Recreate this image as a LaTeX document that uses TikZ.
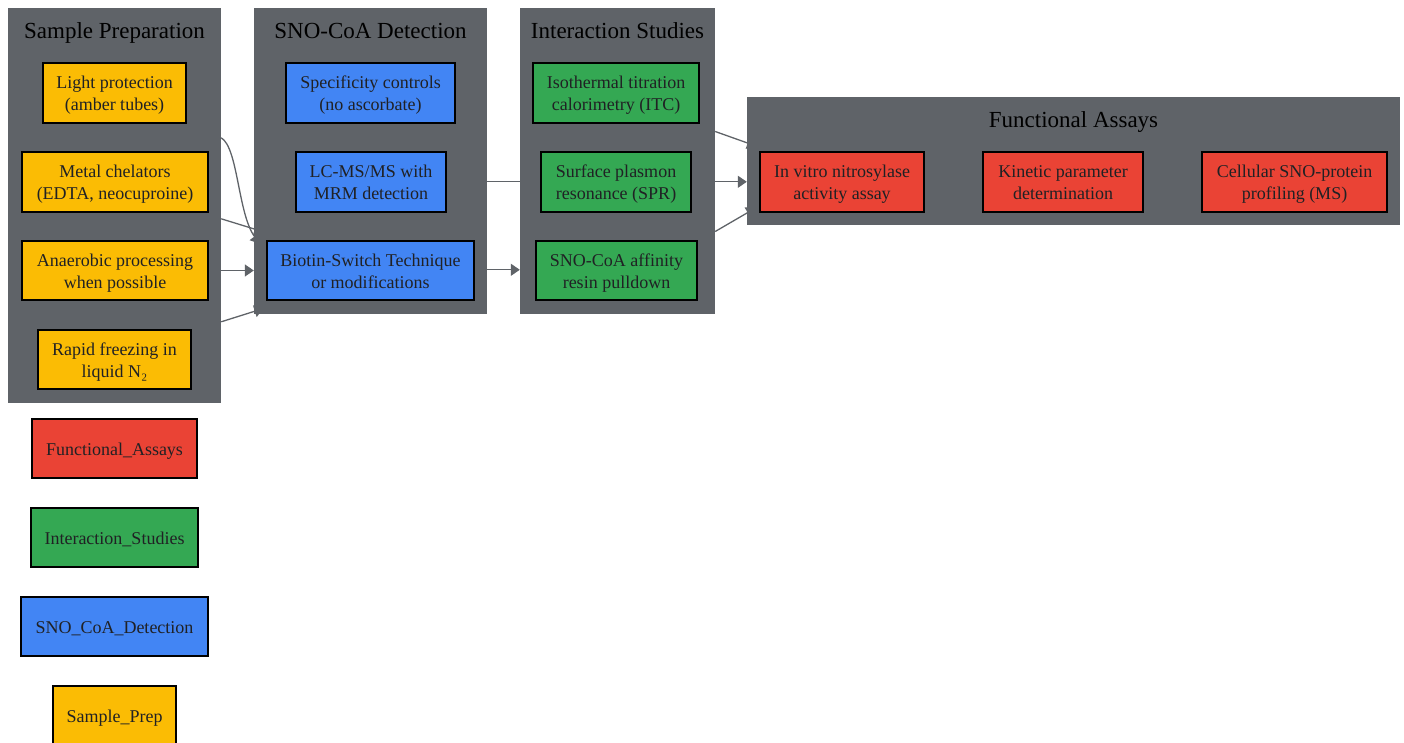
\documentclass[tikz,border=0pt]{standalone}
\usepackage{fontspec}
\setmainfont{Liberation Serif}
\usetikzlibrary{arrows.meta,calc}
\definecolor{clgray}{HTML}{5F6368}
\definecolor{cAmber}{HTML}{FBBC04}
\definecolor{cBlue}{HTML}{4285F4}
\definecolor{cGreen}{HTML}{34A853}
\definecolor{cRed}{HTML}{EA4335}
\definecolor{txt}{HTML}{202124}
\newcommand{\tx}[1]{\raisebox{-2.5pt}[\height][\depth]{\begin{tabular}{@{}c@{}}#1\end{tabular}}}
\tikzset{
  cluster/.style={fill=clgray,draw=none,inner sep=0pt},
  ctitle/.style={font=\fontsize{23}{27}\selectfont,text=black,inner sep=0pt,anchor=base},
  box/.style={draw=black,line width=1.3pt,inner sep=0pt,align=center,
    font=\fontsize{18}{22}\selectfont,text=txt},
  conn/.style={draw=clgray,line width=1.3pt,-{Triangle[length=9pt,width=12pt]}},
}
\begin{document}
\begin{tikzpicture}[x=1pt,y=-1pt]
\useasboundingbox (0,0) rectangle (1404,743);
% clusters
\node[cluster,minimum width=213pt,minimum height=395pt] (sp) at (114.5,205.5) {};
\node[cluster,minimum width=233pt,minimum height=306pt] (sd) at (370.5,161) {};
\node[cluster,minimum width=195pt,minimum height=306pt] (is) at (617.5,161) {};
\node[cluster,minimum width=653pt,minimum height=128pt] (fa) at (1073.5,161) {};
\node[ctitle] (tsp) at (114.5,38.5) {Sample Preparation};
\node[ctitle] (tsd) at (370.5,38.5) {SNO-CoA Detection};
\node[ctitle] (tis) at (617.5,38.5) {Interaction Studies};
\node[ctitle] (tfa) at (1073.5,127.5) {Functional Assays};
% Sample prep nodes
\node[box,fill=cAmber,minimum width=143pt,minimum height=60pt] (lp) at (114.5,93) {\tx{Light protection\\(amber tubes)}};
\node[box,fill=cAmber,minimum width=186pt,minimum height=60pt] (mc) at (115,182) {\tx{Metal chelators\\(EDTA, neocuproine)}};
\node[box,fill=cAmber,minimum width=186pt,minimum height=59pt] (ap) at (115,270.5) {\tx{Anaerobic processing\\when possible}};
\node[box,fill=cAmber,minimum width=153pt,minimum height=59pt] (rf) at (114.5,359.5) {\tx{Rapid freezing in\\liquid N₂}};
% SNO-CoA detection
\node[box,fill=cBlue,minimum width=169pt,minimum height=60pt] (sc) at (370.5,93) {\tx{Specificity controls\\(no ascorbate)}};
\node[box,fill=cBlue,minimum width=150pt,minimum height=60pt] (lc) at (371,182) {\tx{LC-MS/MS with\\MRM detection}};
\node[box,fill=cBlue,minimum width=207pt,minimum height=59pt] (bs) at (370.5,270.5) {\tx{Biotin-Switch Technique\\or modifications}};
% Interaction studies
\node[box,fill=cGreen,minimum width=166pt,minimum height=60pt] (itc) at (616,93) {\tx{Isothermal titration\\calorimetry (ITC)}};
\node[box,fill=cGreen,minimum width=150pt,minimum height=60pt] (spr) at (616,182) {\tx{Surface plasmon\\resonance (SPR)}};
\node[box,fill=cGreen,minimum width=161pt,minimum height=59pt] (aff) at (616.5,270.5) {\tx{SNO-CoA affinity\\resin pulldown}};
% Functional assays
\node[box,fill=cRed,minimum width=164pt,minimum height=60pt] (iv) at (842,182) {\tx{In vitro nitrosylase\\activity assay}};
\node[box,fill=cRed,minimum width=160pt,minimum height=60pt] (kp) at (1063,182) {\tx{Kinetic parameter\\determination}};
\node[box,fill=cRed,minimum width=185pt,minimum height=60pt] (cs) at (1294.5,182) {\tx{Cellular SNO-protein\\profiling (MS)}};
% legend
\node[box,fill=cRed,minimum width=165pt,minimum height=59pt] (lfa) at (114.5,448.5) {\tx{Functional\_Assays}};
\node[box,fill=cGreen,minimum width=167pt,minimum height=59pt] (lis) at (114.5,537.5) {\tx{Interaction\_Studies}};
\node[box,fill=cBlue,minimum width=187pt,minimum height=59pt] (lsd) at (114.5,626.5) {\tx{SNO\_CoA\_Detection}};
\node[box,fill=cAmber,minimum width=123pt,minimum height=59pt] (lsp) at (114.5,715.5) {\tx{Sample\_Prep}};
% edges Sample -> Detection
\draw[conn] ($(sp.north east)+(0,130)$) .. controls +(17,10) and +(-22,-30) .. ($(sd.north west)+(6,236)$);
\draw[conn] ($(sp.north east)+(0,211)$) -- ($(sd.north west)+(9.6,224)$);
\draw[conn] ($(sp.north east)+(0,262.7)$) -- ($(sd.north west)+(0,262.7)$);
\draw[conn] ($(sp.north east)+(0,314)$) -- ($(sd.north west)+(9.6,300.7)$);
% Detection -> Interaction
\draw[conn] ($(sd.north east)+(0,174)$) -- ($(is.north west)+(10,174)$);
\draw[conn] ($(sd.north east)+(0,262)$) -- ($(is.north west)+(0,262)$);
% Interaction -> Functional
\draw[conn] ($(is.north east)+(0,123.7)$) -- ($(fa.north west)+(9.4,49.3)$);
\draw[conn] ($(is.north east)+(0,174)$) -- ($(fa.north west)+(0,85)$);
\draw[conn] ($(is.north east)+(0,223.7)$) -- ($(fa.north west)+(8.6,111.3)$);
\end{tikzpicture}
\end{document}
